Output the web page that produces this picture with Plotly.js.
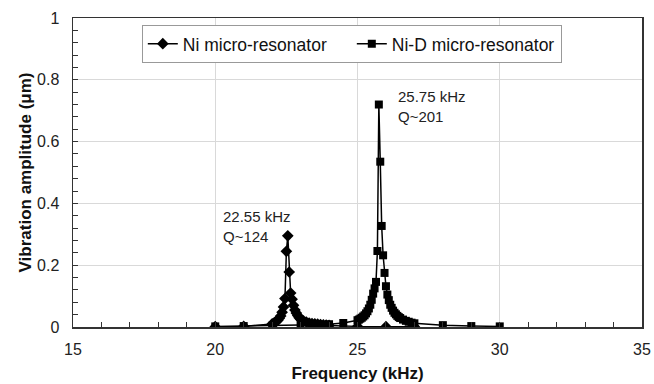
<!DOCTYPE html>
<html>
<head>
<meta charset="utf-8">
<script src="https://cdn.plot.ly/plotly-3.0.1.min.js"></script>
<style>html,body{margin:0;padding:0;background:#fff;}#chart{width:654px;height:384px;}</style>
</head>
<body>
<div id="chart"></div>
<script>
// Ni micro-resonator (diamonds)
const niFreq = [20, 21, 22, 22.05, 22.1, 22.15, 22.2, 22.25, 22.3, 22.35, 22.4, 22.45, 22.5, 22.55, 22.6, 22.65, 22.7, 22.75, 22.8, 22.85, 22.9, 22.95, 23.0, 23.1, 23.2, 23.3, 23.4, 23.5, 23.6, 23.7, 23.8, 23.9, 24, 25, 26, 27];
const niAmp  = [0.001, 0.002, 0.010, 0.012, 0.015, 0.018, 0.022, 0.028, 0.036, 0.048, 0.065, 0.092, 0.245, 0.295, 0.178, 0.110, 0.090, 0.070, 0.055, 0.045, 0.037, 0.030, 0.025, 0.020, 0.016, 0.013, 0.011, 0.010, 0.009, 0.008, 0.007, 0.006, 0.005, 0.002, 0.001, 0.001];

// Ni-D micro-resonator (squares)
const nidFreq = [20, 21, 22, 23, 23.5, 24, 24.5, 25.0, 25.05, 25.1, 25.15, 25.2, 25.25, 25.3, 25.35, 25.4, 25.45, 25.5, 25.55, 25.6, 25.65, 25.7, 25.75, 25.8, 25.85, 25.9, 25.95, 26.0, 26.05, 26.1, 26.15, 26.2, 26.25, 26.3, 26.35, 26.4, 26.45, 26.5, 26.6, 26.7, 26.8, 26.9, 27, 28, 29, 30];
const nidAmp  = [0.002, 0.003, 0.004, 0.006, 0.007, 0.009, 0.013, 0.022, 0.024, 0.027, 0.030, 0.034, 0.038, 0.044, 0.051, 0.060, 0.072, 0.088, 0.108, 0.125, 0.146, 0.246, 0.720, 0.535, 0.327, 0.232, 0.175, 0.132, 0.105, 0.087, 0.072, 0.062, 0.053, 0.046, 0.041, 0.036, 0.032, 0.029, 0.024, 0.020, 0.017, 0.014, 0.012, 0.006, 0.003, 0.002];

const seriesNames = ['Ni micro-resonator', 'Ni-D micro-resonator'];
const peakLabels = ['22.55 kHz<br>Q~124', '25.75 kHz<br>Q~201'];
const peakLabelX = [20.2, 26.35];
const peakLabelY = [0.392, 0.78];

const xTicks = [15, 20, 25, 30, 35];
const yTicks = [0, 0.2, 0.4, 0.6, 0.8, 1];
const yTickText = ['0', '0.2', '0.4', '0.6', '0.8', '1'];

const FONT = 'Liberation Sans, Arial, Helvetica, sans-serif';

const traces = [
  {x: niFreq, y: niAmp, name: seriesNames[0], type: 'scatter', mode: 'lines+markers',
   line: {color: '#000', width: 1.5}, marker: {symbol: 'diamond', size: 9, color: '#000'}},
  {x: nidFreq, y: nidAmp, name: seriesNames[1], type: 'scatter', mode: 'lines+markers',
   line: {color: '#000', width: 1.5}, marker: {symbol: 'square', size: 8, color: '#000'}}
];

const axisCommon = {
  showline: true, mirror: true, linecolor: '#333', linewidth: 1.5,
  showgrid: true, gridcolor: '#d9d9d9', gridwidth: 1, zeroline: false,
  ticks: 'inside', ticklen: 5, tickcolor: '#333', tickwidth: 1,
  tickfont: {family: FONT, size: 16, color: '#222'}
};

const layout = {
  width: 654, height: 384,
  margin: {l: 73, r: 12, t: 18, b: 57},
  paper_bgcolor: '#fff', plot_bgcolor: '#fff',
  font: {family: FONT, color: '#111'},
  showlegend: true,
  legend: {orientation: 'h', x: 0.49, y: 0.978, xanchor: 'center', yanchor: 'top',
           bgcolor: '#fff', bordercolor: '#999', borderwidth: 1,
           font: {family: FONT, size: 17.5, color: '#111'}, entrywidth: 164, itemwidth: 30},
  xaxis: Object.assign({}, axisCommon, {
    range: [15, 35], tickmode: 'array', tickvals: xTicks, ticktext: xTicks.map(String),
    ticklabelstandoff: 7,
    minor: {dtick: 1, ticks: 'inside', ticklen: 5, tickcolor: '#333', showgrid: false},
    title: {text: '<b>Frequency (kHz)</b>', font: {family: FONT, size: 17, color: '#111'}, standoff: 10}
  }),
  yaxis: Object.assign({}, axisCommon, {
    range: [0, 1], tickmode: 'array', tickvals: yTicks, ticktext: yTickText,
    ticklabelstandoff: 9,
    minor: {dtick: 0.04, ticks: 'inside', ticklen: 5, tickcolor: '#333', showgrid: false},
    title: {text: '<b>Vibration amplitude (μm)</b>', font: {family: FONT, size: 17, color: '#111'}, standoff: 1}
  }),
  annotations: peakLabels.map((t, i) => ({
    text: t, x: peakLabelX[i], y: peakLabelY[i], xref: 'x', yref: 'y',
    xanchor: 'left', yanchor: 'top', align: 'left', showarrow: false,
    font: {family: FONT, size: 15, color: '#222'}
  }))
};

Plotly.newPlot('chart', traces, layout, {displayModeBar: false, staticPlot: true});
</script>
</body>
</html>
